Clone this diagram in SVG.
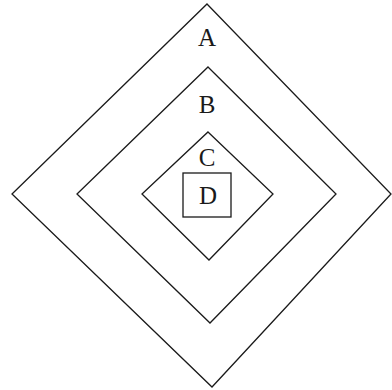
<svg xmlns="http://www.w3.org/2000/svg" width="392" height="390" viewBox="0 0 392 390">
<style>
.s{fill:none;stroke:#1a1a1a;stroke-width:1.3;stroke-linejoin:miter}
.t{font-family:"Liberation Serif","Times New Roman",serif;font-size:25px;fill:#1a1a1a;text-anchor:middle}
</style>
<rect width="392" height="390" fill="#fff"/>
<g id="A">
<polygon class="s" points="207,4 391,194 212,387 12,194"/>
<text class="t" x="207" y="46">A</text>
</g>
<g id="B">
<polygon class="s" points="208,67 336,194 210,323 77,194"/>
<text class="t" x="207" y="113">B</text>
</g>
<g id="C">
<polygon class="s" points="208,132 273,194 209,260 142,194"/>
<text class="t" x="207" y="166">C</text>
</g>
<g id="D">
<rect class="s" x="183" y="173" width="48" height="44"/>
<text class="t" x="208" y="204">D</text>
</g>
<g id="connectors"/>
</svg>
